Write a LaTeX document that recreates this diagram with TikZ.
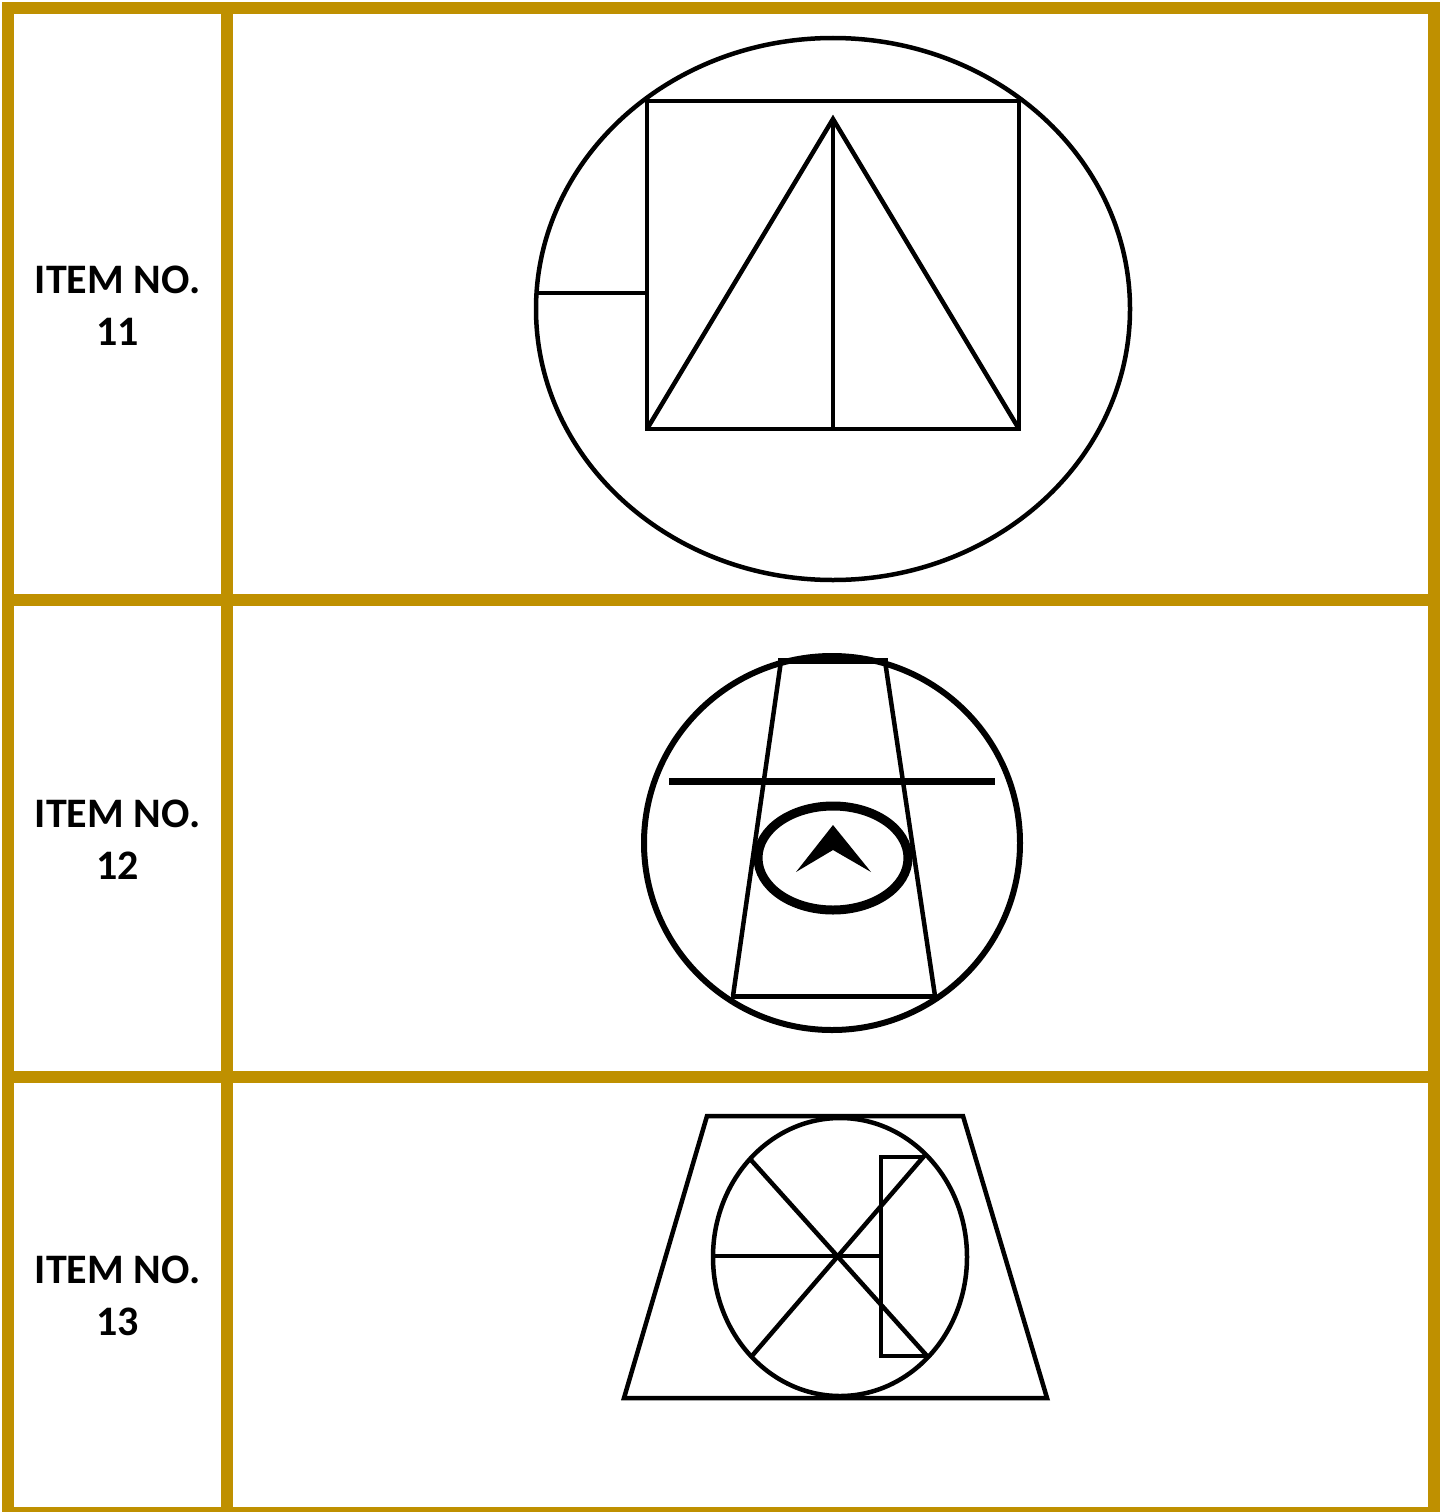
\documentclass[tikz,border=0pt]{standalone}
\usepackage{fontspec}
\setmainfont{Carlito}
\definecolor{gold}{HTML}{BF9000}
\begin{document}
\begin{tikzpicture}[x=1pt,y=-1pt,
  frame/.style={fill=gold},
  lbl/.style={font=\fontsize{42}{52}\selectfont\bfseries, align=center, inner sep=0pt},
  shp/.style={draw=black, line width=4.5pt, line join=miter}]
\useasboundingbox (0,0) rectangle (1440,1512);
% frame
\fill[frame] (2,2) rectangle (1440,14);
\fill[frame] (2,2) rectangle (14,1512);
\fill[frame] (1428,2) rectangle (1440,1512);
\fill[frame] (2,1507) rectangle (1440,1512);
\fill[frame] (221,2) rectangle (233,1512);
\fill[frame] (2,594) rectangle (1440,606);
\fill[frame] (2,1071) rectangle (1440,1083);
% labels
\node[lbl] (l11) at (117.5,306) {ITEM NO.\\11};
\node[lbl] (l12) at (117.5,840) {ITEM NO.\\12};
\node[lbl] (l13) at (117.5,1296) {ITEM NO.\\13};
% item 11
\draw[shp] (833,309) ellipse [x radius=297, y radius=271];
\draw[shp] (647,101) rectangle (1019,429);
\draw[shp] (538,293) -- (647,293);
\draw[shp] (647,429) -- (833,119) -- (1019,429);
\draw[shp] (833,119) -- (833,429);
% item 12
\draw[shp, line width=6pt] (832,843) ellipse [x radius=188, y radius=187];
\draw[shp] (733,996) -- (781,661) (885,661) -- (935,996);
\draw[shp, line width=6pt] (778,661) -- (888,661);
\draw[shp, line width=5pt] (731,996) -- (937,996);
\draw[shp, line width=7pt] (669,781) -- (995,781);
\draw[shp, line width=9pt] (833,858) ellipse [x radius=75, y radius=52];
\fill[black] (833,825) -- (871,872) -- (833,850) -- (796,872) -- cycle;
% item 13
\draw[shp] (707,1116) -- (963,1116) -- (1047,1398) -- (624,1398) -- cycle;
\draw[shp] (840,1257) ellipse [x radius=127, y radius=139];
\draw[shp, line width=3.5pt] (712,1256) -- (881,1256);
\draw[shp, line width=3.5pt] (925,1157) -- (881,1157) -- (881,1356) -- (928,1356);
\draw[shp] (751,1160) -- (928,1357);
\draw[shp] (925,1155) -- (751,1357);
\end{tikzpicture}
\end{document}
